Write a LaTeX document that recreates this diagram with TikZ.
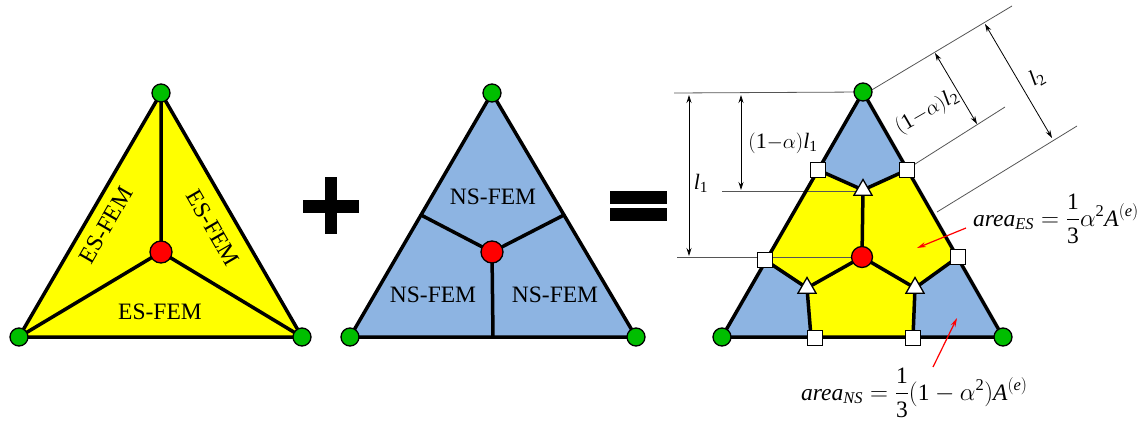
\documentclass[tikz,border=0pt]{standalone}
\usepackage{amsmath}
\usepackage{fontspec}
\setmainfont{Liberation Serif}
\usetikzlibrary{shapes.geometric,arrows.meta}
\definecolor{esyellow}{RGB}{255,255,0}
\definecolor{nsblue}{RGB}{141,180,226}
\definecolor{vgreen}{RGB}{0,190,0}
\definecolor{dimgray}{RGB}{85,85,85}
\newcommand\myit[1]{\textit{#1}}
\begin{document}
\begin{tikzpicture}[x=1pt,y=-1pt,
  edge/.style={line width=3.5pt,line join=round,line cap=round},
  vnode/.style={circle,fill=vgreen,draw=black,line width=1.3pt,minimum size=18pt,inner sep=0pt},
  cnode/.style={circle,fill=red,draw=black,line width=1.3pt,minimum size=22pt,inner sep=0pt},
  snode/.style={rectangle,fill=white,draw=black,line width=1.3pt,minimum size=15pt,inner sep=0pt},
  tnode/.style={regular polygon,regular polygon sides=3,fill=white,draw=black,line width=1.3pt,minimum size=21pt,inner sep=0pt},
  lab/.style={font=\fontsize{23.5}{28}\selectfont,inner sep=0pt},
  mlab/.style={font=\fontsize{22}{26}\selectfont,inner sep=0pt},
  dimline/.style={draw=dimgray,line width=0.8pt},
  dimarrow/.style={draw=black,line width=0.8pt,{Stealth[length=8pt,width=5pt]}-{Stealth[length=8pt,width=5pt]}},
  redarrow/.style={draw=red,line width=1.2pt,-{Stealth[length=9pt,width=5pt]}}
  ]
\useasboundingbox (0,0) rectangle (1148,425);

% ---------- left triangle (ES-FEM) ----------
\coordinate (A1) at (161,93);
\coordinate (B1) at (19,337);
\coordinate (C1) at (302,337);
\coordinate (G1) at (161,252);
\fill[esyellow] (A1) -- (B1) -- (C1) -- cycle;
\draw[edge] (A1) -- (B1) -- (C1) -- cycle;
\draw[edge] (G1) -- (A1) (G1) -- (B1) (G1) -- (C1);
\node[lab,rotate=60] (es1) at (106,225) {ES-FEM};
\node[lab,rotate=-60] (es2) at (213,228) {ES-FEM};
\node[lab] (es3) at (160,312) {ES-FEM};
\node[vnode] (a1) at (A1) {};
\node[vnode] (b1) at (B1) {};
\node[vnode] (c1) at (C1) {};
\node[cnode] (g1) at (G1) {};

% plus sign
\fill (303,200) rectangle (359,213);
\fill (325,177) rectangle (337,234);

% ---------- middle triangle (NS-FEM) ----------
\coordinate (A2) at (492,93);
\coordinate (B2) at (350,337);
\coordinate (C2) at (636,337);
\coordinate (G2) at (492,252);
\coordinate (ML2) at (421,215);
\coordinate (MR2) at (564,215);
\coordinate (MB2) at (493,337);
\fill[nsblue] (A2) -- (B2) -- (C2) -- cycle;
\draw[edge] (A2) -- (B2) -- (C2) -- cycle;
\draw[edge] (G2) -- (ML2) (G2) -- (MR2) (G2) -- (MB2);
\node[lab] (ns1) at (493,197) {NS-FEM};
\node[lab] (ns2) at (433,295) {NS-FEM};
\node[lab] (ns3) at (555,295) {NS-FEM};
\node[vnode] (a2) at (A2) {};
\node[vnode] (b2) at (B2) {};
\node[vnode] (c2) at (C2) {};
\node[cnode] (g2) at (G2) {};

% equals sign
\fill (610,191) rectangle (667,204);
\fill (610,208) rectangle (667,221);

% ---------- right triangle (combined) ----------
\coordinate (A3) at (863,92);
\coordinate (B3) at (722,337);
\coordinate (C3) at (1003,337);
\coordinate (G3) at (862,257);
\coordinate (SUL) at (818,170);
\coordinate (SUR) at (907,170);
\coordinate (SML) at (765,260);
\coordinate (SMR) at (958,257);
\coordinate (SBLl) at (811,337);
\coordinate (SBRl) at (913,337);
\coordinate (TT) at (863,190);
\coordinate (TL) at (807,288);
\coordinate (TR) at (915,288);
\fill[esyellow] (A3) -- (B3) -- (C3) -- cycle;
\fill[nsblue] (A3) -- (SUL) -- (TT) -- (SUR) -- cycle;
\fill[nsblue] (B3) -- (SML) -- (TL) -- (SBLl) -- cycle;
\fill[nsblue] (C3) -- (SBRl) -- (TR) -- (SMR) -- cycle;

% dimension extension lines
\coordinate (H1a) at (674,93);
\coordinate (H2a) at (722,191);
\coordinate (H2b) at (857,191);
\coordinate (H3a) at (677,257);
\draw[dimline] (H1a) -- (A3);
\draw[dimline] (H2a) -- (H2b);
\draw[dimline] (H3a) -- (G3);
\coordinate (E1a) at (870,91);
\coordinate (E1b) at (1012,6);
\coordinate (E2a) at (912,166);
\coordinate (E2b) at (1005,107);
\coordinate (E3a) at (937,212);
\coordinate (E3b) at (1077,126);
\draw[dimline] (E1a) -- (E1b);
\draw[dimline] (E2a) -- (E2b);
\draw[dimline] (E3a) -- (E3b);

% thick edges
\draw[edge] (A3) -- (B3) -- (C3) -- cycle;
\draw[edge] (SUL) -- (TT) -- (SUR);
\draw[edge] (SML) -- (TL) -- (SBLl);
\draw[edge] (SBRl) -- (TR) -- (SMR);
\draw[edge] (G3) -- (TT) (G3) -- (TL) (G3) -- (TR);

% markers
\node[vnode] (a3) at (A3) {};
\node[vnode] (b3) at (B3) {};
\node[vnode] (c3) at (C3) {};
\node[cnode,minimum size=21pt] (g3) at (G3) {};
\node[snode] (sul) at (SUL) {};
\node[snode] (sur) at (SUR) {};
\node[snode] (sml) at (SML) {};
\node[snode] (smr) at (SMR) {};
\node[snode] (sbl) at (815,338) {};
\node[snode] (sbr) at (913,338) {};
\node[tnode] (tt) at (TT) {};
\node[tnode] (tl) at (TL) {};
\node[tnode] (tr) at (TR) {};

% dimension arrows
\coordinate (D1a) at (689,95);
\coordinate (D1b) at (689,256);
\coordinate (D2a) at (741,95);
\coordinate (D2b) at (741,190);
\draw[dimarrow] (D1a) -- (D1b);
\draw[dimarrow] (D2a) -- (D2b);
\coordinate (D3a) at (935,53);
\coordinate (D3b) at (977,124);
\coordinate (D4a) at (985,24);
\coordinate (D4b) at (1052,138);
\draw[dimarrow] (D3a) -- (D3b);
\draw[dimarrow] (D4a) -- (D4b);

% dimension labels
\node[mlab] (l1) at (701,183) {$\myit{l}_{\text{1}}$};
\node[mlab] (al1) at (783,143) {$(\text{1}{-}\alpha)\myit{l}_{\text{1}}$};
\node[mlab,rotate=30] (al2) at (927,112) {$(\text{1}{-}\alpha)\myit{l}_{\text{2}}$};
\node[mlab,rotate=30] (l2) at (1037,78) {$\myit{l}_{\text{2}}$};

% area formulas
\node[lab,anchor=base west] (fes) at (973,226)
  {$\myit{area}_{\myit{ES}}=\dfrac{\text{1}}{\text{3}}\alpha^{\text{2}}\myit{A}^{(\myit{e})}$};
\node[lab,anchor=base west] (fns) at (801,400)
  {$\myit{area}_{\myit{NS}}=\dfrac{\text{1}}{\text{3}}(\text{1}-\alpha^{\text{2}})\myit{A}^{(\myit{e})}$};
\coordinate (R1a) at (966,228);
\coordinate (R1b) at (917,248);
\coordinate (R2a) at (933,367);
\coordinate (R2b) at (957,318);
\draw[redarrow] (R1a) -- (R1b);
\draw[redarrow] (R2a) -- (R2b);
\end{tikzpicture}
\end{document}
